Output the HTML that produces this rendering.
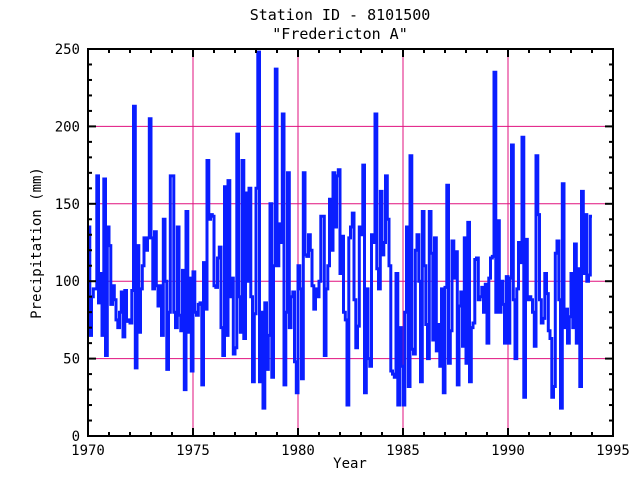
<!DOCTYPE html>
<html><head><style>
html,body{margin:0;padding:0;background:#fff;}
svg{display:block;font-family:"DejaVu Sans Mono","Liberation Mono",monospace;}
</style></head><body>
<svg id="s" width="640" height="480" xmlns="http://www.w3.org/2000/svg">
<rect width="640" height="480" fill="#fff"/>
<g id="grid"></g>
<path id="data" fill="none" stroke="#0a1eff" stroke-width="3" stroke-linejoin="miter"/>
<g id="ax"></g>
<text x="340" y="20" font-size="15" text-anchor="middle">Station ID - 8101500</text>
<text x="340" y="39" font-size="15" text-anchor="middle">"Fredericton A"</text>
<text x="350" y="468" font-size="14" text-anchor="middle">Year</text>
<text transform="translate(41,243) rotate(-90)" font-size="14" text-anchor="middle">Precipitation (mm)</text>
</svg>
<script>
var X0=88,X1=613,Y0=436,Y1=49;
function xs(y){return X0+(y-1970)*(X1-X0)/25;}
function ys(v){return Y0-v*(Y0-Y1)/250;}
var d=[135,65,90,95,95,168,86,105,65,166,52,135,
123,85,97,88,75,70,80,93,64,94,74,75,
73,94,213,44,123,67,95,110,128,120,128,205,
128,95,132,97,84,97,65,140,100,43,80,168,
168,80,70,135,78,68,107,30,145,67,102,42,
106,80,78,85,86,33,112,82,178,140,143,142,
97,96,115,122,70,52,161,65,165,90,102,53,
57,195,90,67,178,63,157,100,160,90,35,79,
160,248,35,80,18,86,43,65,150,38,110,237,
110,137,125,208,33,80,170,70,90,93,48,28,
110,95,37,170,117,116,130,120,97,82,95,90,
100,142,142,52,95,110,153,120,170,135,168,172,
105,129,80,75,20,128,135,144,88,57,71,135,
130,175,28,95,50,45,130,125,208,108,95,158,
117,125,168,140,110,42,40,38,105,20,70,45,
20,80,135,32,181,56,53,120,130,100,35,145,
110,72,50,145,118,62,128,55,72,45,95,28,
96,162,47,68,126,102,119,33,84,93,58,128,
47,138,35,70,73,114,115,88,90,96,80,98,
60,102,115,116,235,80,139,80,100,85,60,103,
60,102,188,88,50,95,125,112,193,25,127,88,
90,88,80,58,181,143,88,73,76,105,92,68,
63,25,32,118,126,88,18,163,70,82,60,77,
105,70,124,60,108,32,158,105,143,100,104,142];
var p="",st=(592-X0)/d.length;
for(var i=0;i<d.length;i++){var x=X0+i*st,y=ys(d[i]);p+=(i?"L":"M")+x.toFixed(1)+","+y.toFixed(1)+"L"+(x+st).toFixed(1)+","+y.toFixed(1);}
document.getElementById("data").setAttribute("d",p);
var g="",a="";var M="#e0117f";
for(var v=50;v<250;v+=50){g+='<line x1="'+(X0+8)+'" x2="'+(X1-8)+'" y1="'+ys(v)+'" y2="'+ys(v)+'" stroke="'+M+'" stroke-width="1"/>';}
for(var yr=1975;yr<1995;yr+=5){g+='<line y1="'+(Y1+8)+'" y2="'+(Y0-8)+'" x1="'+xs(yr)+'" x2="'+xs(yr)+'" stroke="'+M+'" stroke-width="1"/>';}
document.getElementById("grid").innerHTML=g;
a+='<rect x="'+X0+'" y="'+Y1+'" width="'+(X1-X0)+'" height="'+(Y0-Y1)+'" fill="none" stroke="#000" stroke-width="2"/>';
for(var v=0;v<=250;v+=10){var L=(v%50==0)?8:4,y=ys(v);
a+='<line x1="'+X0+'" x2="'+(X0+L)+'" y1="'+y+'" y2="'+y+'" stroke="#000" stroke-width="2"/>';
a+='<line x1="'+(X1-L)+'" x2="'+X1+'" y1="'+y+'" y2="'+y+'" stroke="#000" stroke-width="2"/>';
if(v%50==0)a+='<text x="80" y="'+(y+5)+'" font-size="14" text-anchor="end">'+v+'</text>';}
for(var yr=1970;yr<=1995;yr++){var L=(yr%5==0)?8:4,x=xs(yr);
a+='<line x1="'+x+'" x2="'+x+'" y1="'+Y0+'" y2="'+(Y0-L)+'" stroke="#000" stroke-width="2"/>';
a+='<line x1="'+x+'" x2="'+x+'" y1="'+Y1+'" y2="'+(Y1+L)+'" stroke="#000" stroke-width="2"/>';
if(yr%5==0)a+='<text x="'+x+'" y="455" font-size="14" text-anchor="middle">'+yr+'</text>';}
document.getElementById("ax").innerHTML=a;
</script>
</body></html>
